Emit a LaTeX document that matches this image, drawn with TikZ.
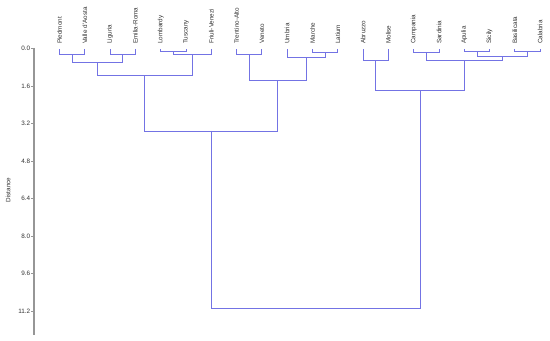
\documentclass[tikz,border=0pt]{standalone}
\usepackage{fontspec}
\setmainfont{Liberation Sans}
\usetikzlibrary{positioning}
\definecolor{dendro}{RGB}{115,115,228}
\definecolor{axisgray}{RGB}{150,150,150}
\definecolor{txtgray}{RGB}{50,50,50}
\tikzset{
  branch/.style={draw=dendro, line width=0.7pt},
  axisline/.style={draw=axisgray, line width=1.2pt},
  tick/.style={draw=axisgray, line width=0.5pt},
  leaf/.style={rotate=90, anchor=west, inner sep=0pt, font=\fontsize{5.4}{6}\selectfont, text=txtgray},
  ticklbl/.style={anchor=east, inner sep=0.8pt, font=\fontsize{5.4}{6}\selectfont, text=txtgray}
}

\begin{document}
\begin{tikzpicture}[x=0.759cm, y=-0.703cm]
\useasboundingbox (-2.352,-2.078) rectangle (19.387,12.47);

% leaves along the top
\foreach \id/\txt [count=\i from 0] in {pie/Piedmont, vao/Valle d'Aosta, lig/Liguria, emr/Emilia-Roma,
    lom/Lombardy, tus/Tuscany, fri/Friuli-Venezi, tre/Trentino-Alto, ven/Veneto, umb/Umbria,
    mar/Marche, lat/Latium, abr/Abruzzo, mol/Molise, cam/Campania, sar/Sardinia,
    apu/Apulia, sic/Sicily, bas/Basilicata, cal/Calabria} {
  \coordinate (\id) at (\i,0.02);
  \node[leaf] (\id-lbl) at (\i,-0.2) {\txt};
}

% merge points (x = middle of children, y = distance)
\coordinate (m1)  at (0.5,0.24);
\coordinate (m2)  at (2.5,0.24);
\coordinate (m3)  at (1.5,0.60);
\coordinate (m4)  at (4.5,0.13);
\coordinate (m5)  at (5.25,0.24);
\coordinate (m6)  at (3.375,1.16);
\coordinate (m7)  at (7.5,0.24);
\coordinate (m8)  at (10.5,0.15);
\coordinate (m9)  at (9.75,0.37);
\coordinate (m10) at (8.625,1.34);
\coordinate (m11) at (6,3.51);
\coordinate (m12) at (12.5,0.49);
\coordinate (m13) at (14.5,0.15);
\coordinate (m14) at (16.5,0.13);
\coordinate (m15) at (18.5,0.13);
\coordinate (m16) at (17.5,0.31);
\coordinate (m17) at (16,0.52);
\coordinate (m18) at (14.25,1.80);
\coordinate (m19) at (10.125,11.10);

\foreach \a/\m/\b in {pie/m1/vao, lig/m2/emr, m1/m3/m2, lom/m4/tus, m4/m5/fri, m3/m6/m5,
    tre/m7/ven, mar/m8/lat, umb/m9/m8, m7/m10/m9, m6/m11/m10,
    abr/m12/mol, cam/m13/sar, apu/m14/sic, bas/m15/cal, m14/m16/m15, m13/m17/m16,
    m12/m18/m17, m11/m19/m18}
  \draw[branch] (\a) |- (\m) -| (\b);

% distance axis
\coordinate (axtop) at (-1.008,-0.03);
\coordinate (axbot) at (-1.008,12.21);
\draw[axisline] (axtop) -- (axbot);
\foreach \v in {0.0,1.6,3.2,4.8,6.4,8.0,9.6,11.2}
  \draw[tick] (-1.008,\v) -- ++(-0.1,0) node[ticklbl] {\v};
\node[leaf, anchor=center] (dist) at (-2.035,6.03) {Distance};
\end{tikzpicture}
\end{document}
